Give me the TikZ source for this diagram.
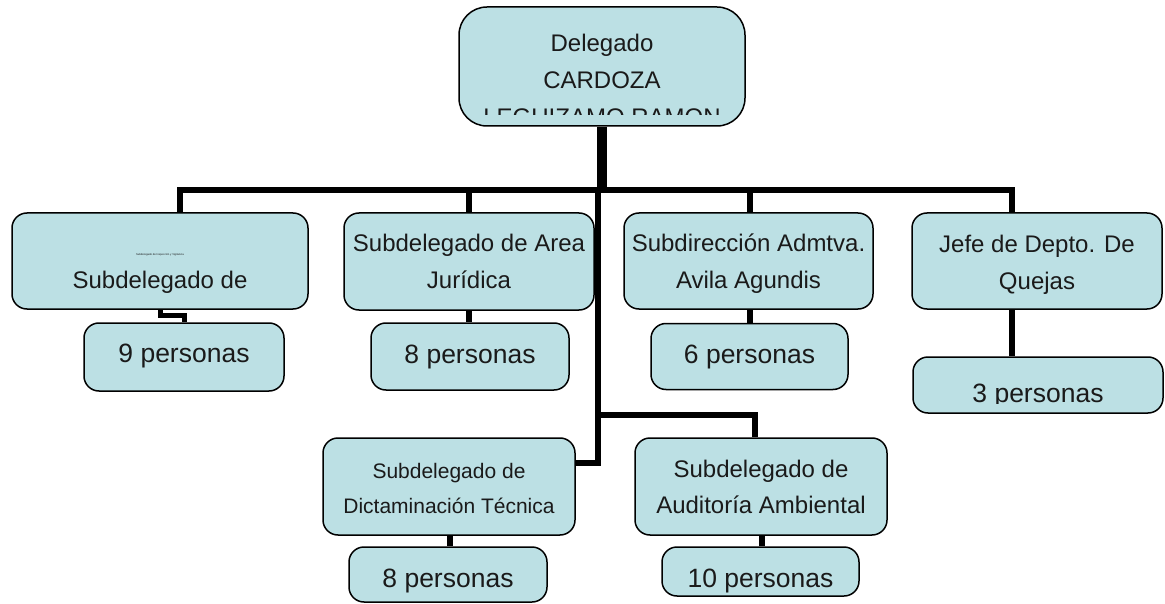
\documentclass[tikz,border=0pt]{standalone}
\usepackage{fontspec}
\setmainfont{Liberation Sans}
\usetikzlibrary{backgrounds}
\definecolor{boxfill}{RGB}{188,224,228}
\definecolor{txt}{RGB}{26,26,26}
\tikzset{
  orgbox/.style={draw=black, line width=1.5pt, fill=boxfill, rounded corners=15pt,
    inner sep=0pt, shape=rectangle},
  lbl/.style={anchor=base, inner sep=0pt, text=txt, font=\fontsize{24}{24}\selectfont},
  lblsmall/.style={lbl, font=\fontsize{21}{21}\selectfont},
  lblbig/.style={lbl, font=\fontsize{26.5}{26.5}\selectfont},
  lbltiny/.style={lbl, font=\fontsize{2.7}{3}\selectfont},
  conn/.style={draw=black, line width=5.5pt},
  stem/.style={draw=black, line width=10pt}
}
\begin{document}
\begin{tikzpicture}[x=1pt,y=-1pt]
\useasboundingbox (0,0) rectangle (1165,604);

% boxes
\node[orgbox, rounded corners=28pt, minimum width=286pt, minimum height=119pt] (top) at (602,66.5) {};
\node[orgbox, minimum width=296pt, minimum height=96pt] (b1) at (160,261) {};
\node[orgbox, minimum width=250pt, minimum height=97pt] (b2) at (469,261.5) {};
\node[orgbox, minimum width=249pt, minimum height=96pt] (b3) at (748.5,261) {};
\node[orgbox, minimum width=250pt, minimum height=96pt] (b4) at (1037,261) {};
\node[orgbox, minimum width=200pt, minimum height=68pt] (p1) at (184,357) {};
\node[orgbox, minimum width=198pt, minimum height=67pt] (p2) at (470,356.5) {};
\node[orgbox, minimum width=197pt, minimum height=66pt] (p3) at (749.5,356.5) {};
\node[orgbox, minimum width=250pt, minimum height=56pt] (p4) at (1038,385) {};
\node[orgbox, minimum width=252pt, minimum height=97pt] (b5) at (449,486.5) {};
\node[orgbox, minimum width=252pt, minimum height=97pt] (b6) at (761,486.5) {};
\node[orgbox, minimum width=198pt, minimum height=55pt] (p5) at (448,574.5) {};
\node[orgbox, minimum width=197pt, minimum height=49pt] (p6) at (760.5,571.5) {};

% connectors
\coordinate (j) at (601,190);
\coordinate (m) at (598,190);
\coordinate (mb) at (598,415);
\begin{scope}[on background layer]
  \draw[stem] (top.south) -- (602,190);
  \draw[conn] ([xshift=20pt]b1.north) |- (j);
  \draw[conn] (b2.north) |- (j);
  \draw[conn] ([xshift=1.5pt]b3.north) |- (j);
  \draw[conn] ([xshift=-25pt]b4.north) |- (j);
  \draw[conn] (m) |- ([yshift=23.5pt]b5.east);
  \draw[conn] (mb) -| ([xshift=-6pt]b6.north);
  \draw[conn, line width=5pt] (b1.south) -- ++(0,6) -| (p1.north);
  \draw[conn] (b2.south) -- (b2.south |- p2.north);
  \draw[conn] ([xshift=1.5pt]b3.south) -- ([xshift=1.5pt]b3.south |- p3.north);
  \draw[conn] ([xshift=-25pt]b4.south) -- ([xshift=-25pt]b4.south |- p4.north);
  \draw[conn] ([xshift=1pt]b5.south) -- ([xshift=1pt]b5.south |- p5.north);
  \draw[conn] ([xshift=1pt]b6.south) -- ([xshift=1pt]b6.south |- p6.north);
\end{scope}

% texts
\begin{scope}
  \clip (459,7) rectangle (745,115);
  \node[lbl] (t1) at (602,52) {Delegado};
  \node[lbl] (t2) at (602,89) {CARDOZA};
  \node[lbl] (t3) at (602,126) {LEGUIZAMO RAMON};
\end{scope}

\node[lbltiny] (b1a) at (160,256) {Subdelegado de Inspección y Vigilancia};
\node[lbl] (b1b) at (160,288) {Subdelegado de};

\node[lbl] (b2a) at (469,252) {Subdelegado de Area};
\node[lbl] (b2b) at (469,288) {Jurídica};

\node[lbl] (b3a) at (748.5,252) {Subdirección Admtva.};
\node[lbl] (b3b) at (748.5,288) {Avila Agundis};

\node[lbl] (b4a) at (1037,253) {Jefe de Depto. De};
\node[lbl] (b4b) at (1037,290) {Quejas};

\node[lblbig] (p1t) at (184,362) {9 personas};
\node[lblbig] (p2t) at (470,363) {8 personas};
\node[lblbig] (p3t) at (749.5,363) {6 personas};
\begin{scope}
  \clip (913,357) rectangle (1163,403.5);
  \node[lblbig] (p4t) at (1038,402) {3 personas};
\end{scope}

\node[lblsmall] (b5a) at (449,478) {Subdelegado de};
\node[lblsmall] (b5b) at (449,513) {Dictaminación Técnica};

\node[lbl] (b6a) at (761,477) {Subdelegado de};
\node[lbl] (b6b) at (761,513) {Auditoría Ambiental};

\node[lblbig] (p5t) at (448,587) {8 personas};
\node[lblbig] (p6t) at (760.5,587) {10 personas};
\end{tikzpicture}
\end{document}
